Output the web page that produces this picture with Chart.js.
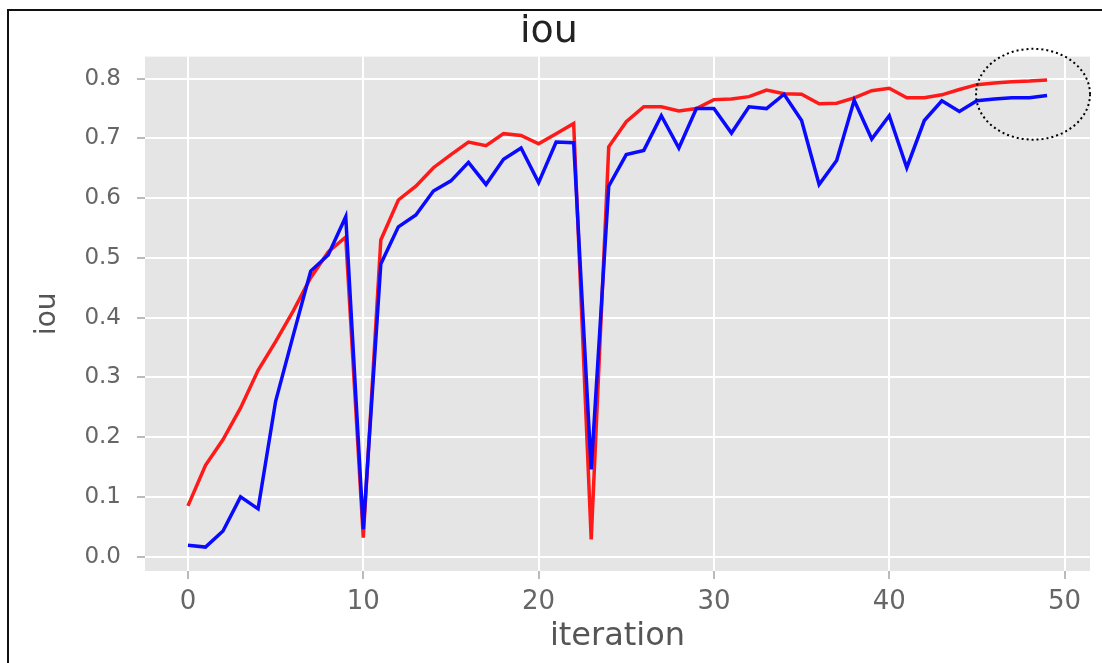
<!DOCTYPE html>
<html>
<head>
<meta charset="utf-8">
<script src="https://cdn.jsdelivr.net/npm/chart.js@4.4.0/dist/chart.umd.min.js"></script>
<style>
  html, body { margin: 0; padding: 0; background: #ffffff; }
  #wrap { width: 1102px; height: 663px; position: relative; }
  canvas { display: block; }
</style>
</head>
<body>
<div id="wrap"><canvas id="c" width="1102" height="663"></canvas></div>
<script>
// ---- data ----
const iterations = [0,1,2,3,4,5,6,7,8,9,10,11,12,13,14,15,16,17,18,19,20,21,22,23,24,25,26,27,28,29,30,31,32,33,34,35,36,37,38,39,40,41,42,43,44,45,46,47,48,49];
const iouRed = [0.085,0.153,0.196,0.249,0.312,0.360,0.411,0.467,0.510,0.535,
                0.032,0.530,0.597,0.620,0.651,0.673,0.694,0.688,0.708,0.705,
                0.691,0.708,0.725,0.029,0.686,0.728,0.753,0.753,0.746,0.750,
                0.765,0.766,0.770,0.781,0.775,0.774,0.758,0.759,0.768,0.780,
                0.784,0.768,0.768,0.773,0.782,0.790,0.793,0.795,0.796,0.798];
const iouBlue = [0.019,0.016,0.043,0.100,0.080,0.260,0.370,0.478,0.505,0.569,
                 0.046,0.490,0.552,0.572,0.612,0.629,0.660,0.623,0.665,0.684,
                 0.626,0.694,0.693,0.146,0.620,0.673,0.680,0.738,0.684,0.750,
                 0.750,0.709,0.753,0.750,0.774,0.730,0.623,0.663,0.764,0.699,
                 0.738,0.651,0.730,0.763,0.745,0.763,0.766,0.768,0.768,0.772];
const xTicks = [0,10,20,30,40,50];
const yTicks = [0.0,0.1,0.2,0.3,0.4,0.5,0.6,0.7,0.8];
const titleText = 'iou';
const xLabel = 'iteration';
const yLabel = 'iou';
// annotation (dotted ellipse) in data units
const highlight = { cx: 48.2, cy: 0.774, rx: 3.25, ry: 0.076 };

Chart.defaults.font.family = "'DejaVu Sans', sans-serif";

const bgPlugin = {
  id: 'bg',
  beforeDraw(chart) {
    const { ctx, chartArea: a, width, height } = chart;
    ctx.save();
    ctx.fillStyle = '#ffffff';
    ctx.fillRect(0, 0, width, height);
    ctx.fillStyle = '#e5e5e5';
    ctx.fillRect(a.left, a.top, a.right - a.left, a.bottom - a.top);
    // outer frame
    ctx.fillStyle = '#111111';
    ctx.fillRect(7, 9, width - 7, 2);
    ctx.fillRect(7, 9, 2, height - 9);
    ctx.restore();
  },
  afterDraw(chart) {
    const { ctx } = chart;
    const xs = chart.scales.x, ys = chart.scales.y;
    const cx = xs.getPixelForValue(highlight.cx);
    const cy = ys.getPixelForValue(highlight.cy);
    const rx = Math.abs(xs.getPixelForValue(highlight.cx + highlight.rx) - cx);
    const ry = Math.abs(ys.getPixelForValue(highlight.cy + highlight.ry) - cy);
    ctx.save();
    ctx.strokeStyle = '#000000';
    ctx.lineWidth = 2;
    ctx.setLineDash([2, 3]);
    ctx.beginPath();
    ctx.ellipse(cx, cy, rx, ry, 0, 0, Math.PI * 2);
    ctx.stroke();
    ctx.restore();
  }
};

const ctx = document.getElementById('c').getContext('2d');
new Chart(ctx, {
  type: 'line',
  data: {
    datasets: [
      {
        label: 'blue',
        data: iterations.map((x, i) => ({ x: x, y: iouBlue[i] })),
        borderColor: '#0a0aff',
        borderWidth: 3.5,
        pointRadius: 0,
        tension: 0,
        fill: false
      },
      {
        label: 'red',
        data: iterations.map((x, i) => ({ x: x, y: iouRed[i] })),
        borderColor: '#ff1a1a',
        borderWidth: 3.5,
        pointRadius: 0,
        tension: 0,
        fill: false
      }
    ]
  },
  options: {
    responsive: false,
    animation: false,
    layout: { padding: { left: 8, right: 12, top: 0, bottom: 0 } },
    plugins: {
      legend: { display: false },
      tooltip: { enabled: false },
      title: {
        display: true,
        text: titleText,
        color: '#222222',
        font: { size: 38, weight: 'normal' },
        padding: { top: 9, bottom: 2 }
      }
    },
    scales: {
      x: {
        type: 'linear',
        min: -2.45,
        max: 51.45,
        afterBuildTicks: s => { s.ticks = xTicks.map(v => ({ value: v })); },
        afterFit: s => { s.height = 92; },
        grid: { color: '#ffffff', lineWidth: 2, tickColor: '#777777', tickLength: 8, tickWidth: 1 },
        border: { display: false },
        ticks: { color: '#666666', font: { size: 26 }, padding: 8, maxRotation: 0, autoSkip: false,
                 callback: v => String(v) },
        title: { display: true, text: xLabel, color: '#555555', font: { size: 32 }, padding: { top: 0, bottom: 7 } }
      },
      y: {
        type: 'linear',
        min: -0.024,
        max: 0.837,
        afterBuildTicks: s => { s.ticks = yTicks.map(v => ({ value: v })); },
        afterFit: s => { s.width = 137; },
        grid: { color: '#ffffff', lineWidth: 2, tickColor: '#777777', tickLength: 8, tickWidth: 1 },
        border: { display: false },
        ticks: { color: '#666666', font: { size: 23 }, padding: 16, autoSkip: false,
                 callback: v => Number(v).toFixed(1) },
        title: { display: true, text: yLabel, color: '#555555', font: { size: 28 }, padding: { top: 23, bottom: 0 } }
      }
    }
  },
  plugins: [bgPlugin]
});
</script>
</body>
</html>
